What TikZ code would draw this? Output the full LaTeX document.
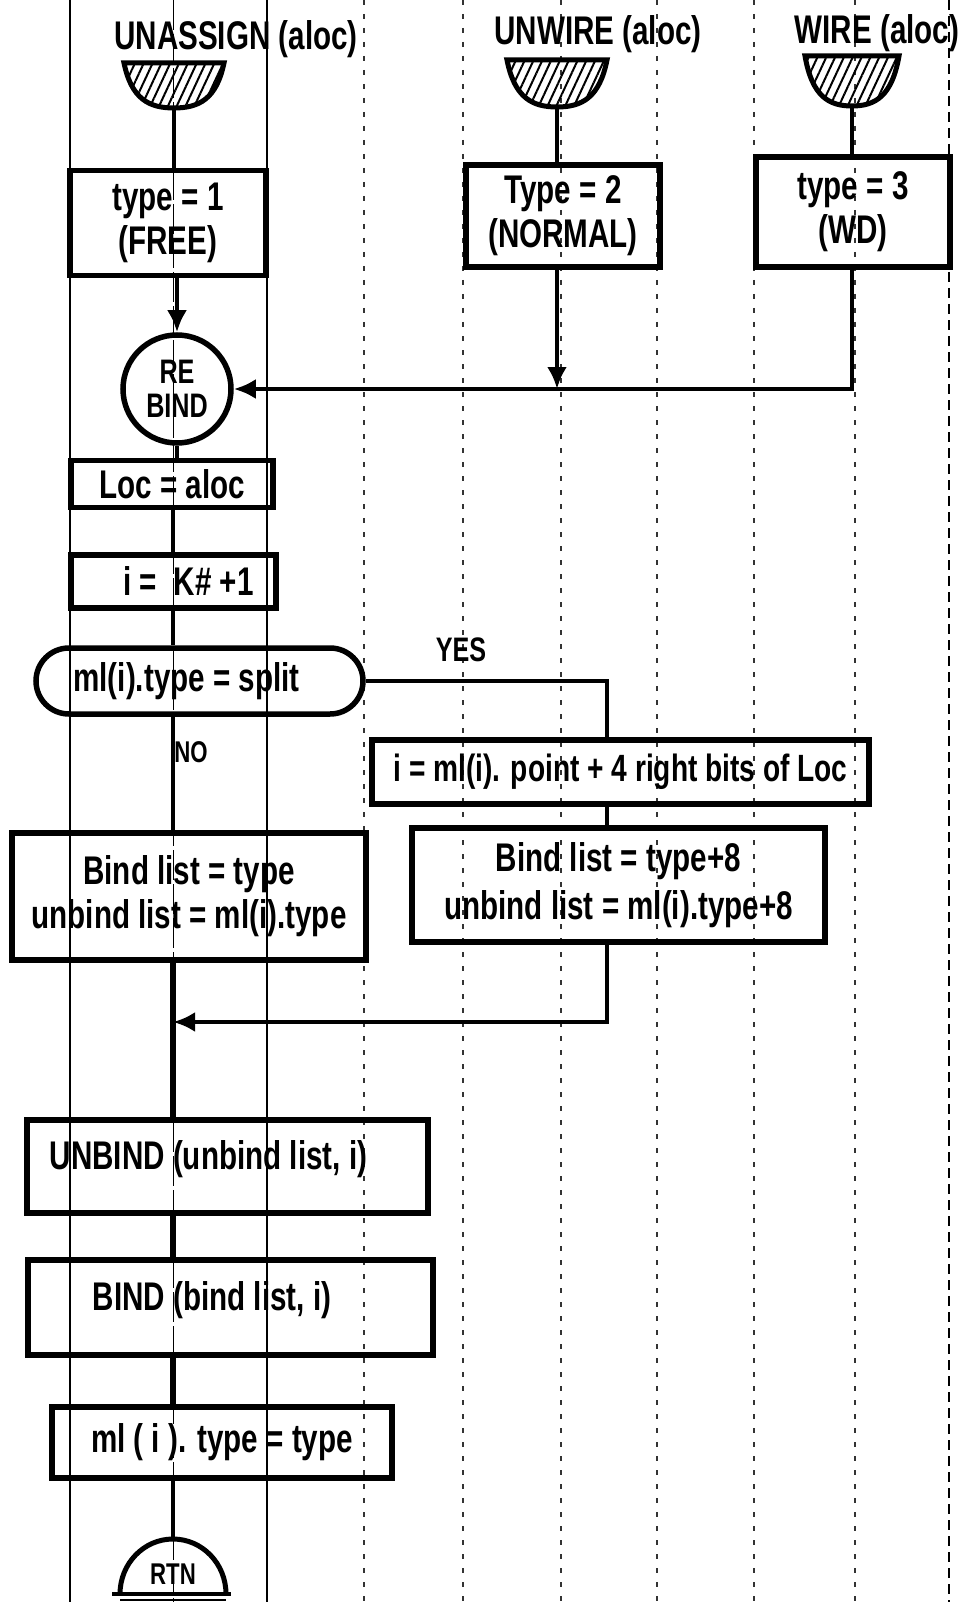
\documentclass[tikz,border=0pt]{standalone}
\usepackage{fontspec}
\setmainfont{Liberation Sans}[FakeStretch=0.74]
\usetikzlibrary{arrows.meta,patterns.meta,shapes.misc}
\newcommand\startsym[5]{%
  \draw[line width=5pt,pattern={Lines[angle=65,distance=8pt,line width=2pt]}]
    ({#2-#5},#3) -- ({#2+#5},#3)
    .. controls ({#2+0.85*#5},{#3+0.8*(#4-#3)}) and ({#2+0.5*#5},#4) .. (#2,#4)
    .. controls ({#2-0.5*#5},#4) and ({#2-0.85*#5},{#3+0.8*(#4-#3)}) .. cycle;
  \coordinate (#1) at (#2,#4);}
\begin{document}
\begin{tikzpicture}[x=1pt,y=-1pt,
  box/.style={draw,line width=5.5pt,inner sep=0pt,align=center,font=\fontsize{40}{44}\selectfont\bfseries},
  conn/.style={line width=4.5pt},
  arr/.style={conn,-{Latex[length=22pt,width=20pt]}},
  txt/.style={inner sep=0pt,font=\fontsize{40}{44}\selectfont\bfseries},
  solidgrid/.style={line width=1.3pt},
  dashgrid/.style={line width=1.1pt,black!80,dash pattern=on 5pt off 9pt},
]
\useasboundingbox (0,0) rectangle (968,1602);
% background paper lines
\foreach \x in {70,267} \draw[solidgrid] (\x,0) -- (\x,1602);
\draw[line width=1pt,dash pattern=on 30pt off 4pt] (173,0) -- (173,1602);
\foreach \x in {364,463,561,657,754,855} \draw[dashgrid] (\x,0) -- (\x,1602);
\draw[line width=1.5pt,dash pattern=on 10pt off 6pt] (949,0) -- (949,1602);

% titles
\node[txt] (ttl1) at (236,39) {UNASSIGN (aloc)};
\node[txt] (ttl2) at (598,34) {UNWIRE (aloc)};
\node[txt] (ttl3) at (877,33) {WIRE (aloc)};

% start symbols
\startsym{b1}{174}{63}{108}{50}
\startsym{b2}{557}{60}{107}{50}
\startsym{b3}{852}{56}{106}{47}

% type boxes
\node[box,minimum width=196pt,minimum height=105pt] (t1) at (168,223) {type = 1\\(FREE)};
\node[box,minimum width=194pt,minimum height=102pt] (t2) at (563,216) {Type = 2\\(NORMAL)};
\node[box,minimum width=194pt,minimum height=110pt] (t3) at (853,212) {type = 3\\(WD)};

\draw[conn] (b1) -- (t1.north -| b1);
\draw[conn] (b2) -- (t2.north -| b2);
\draw[conn] (b3) -- (t3.north -| b3);

% rebind
\node[draw,circle,line width=5.5pt,minimum size=108pt,inner sep=0pt,align=center,
      font=\fontsize{34}{34}\selectfont\bfseries] (rb) at (177,389) {RE\\BIND};
\draw[arr] (t1.south -| rb.north) -- (rb.north);
\draw[arr] (t3.south -| b3) |- (rb.east);
\draw[arr] (t2.south -| b2) -- (b2 |- rb.east);

\coordinate (main) at (173,0);
\coordinate (xr) at (607,0);

\node[box,minimum width=202pt,minimum height=47pt] (loc) at (172,484) {Loc = aloc};
\draw[conn] (rb.south) -- (rb.south |- loc.north);

\node[box,minimum width=205pt,minimum height=53pt] (ik) at (173.5,581.5) {\hspace*{30pt}i = \ K\# +1};
\draw[conn] (loc.south -| main) -- (ik.north -| main);

\node[draw,rounded rectangle,line width=5.5pt,minimum width=327pt,minimum height=66pt,inner sep=0pt,
      font=\fontsize{40}{44}\selectfont\bfseries] (sp) at (199.5,681) {ml(i).type = split\hspace*{26pt}};
\draw[conn] (ik.south -| main) -- (sp.north -| main);

\node[txt,font=\fontsize{34}{34}\selectfont\bfseries] (yes) at (461,650) {YES};
\node[txt,font=\fontsize{30}{30}\selectfont\bfseries] (no) at (191,752) {NO};

\node[box,minimum width=497pt,minimum height=64pt,font=\fontsize{38}{44}\selectfont\bfseries] (im) at (620.5,772) {i = ml(i). point + 4 right bits of Loc};
\draw[conn] (sp.east) -| (im.north -| xr);

\node[box,minimum width=354pt,minimum height=127pt] (bl) at (189,896.5) {Bind list = type\\unbind list = ml(i).type};
\node[box,minimum width=413pt,minimum height=114pt,font=\fontsize{40}{48}\selectfont\bfseries] (br) at (618.5,885)
     {Bind list = type+8\\unbind list = ml(i).type+8};

\draw[conn] (sp.south -| main) -- (bl.north -| main);
\draw[conn] (im.south -| xr) -- (br.north -| xr);

\coordinate (join) at (173,1022);
\draw[arr] (br.south -| xr) |- (join);

\node[box,minimum width=401pt,minimum height=93pt,text depth=24pt] (ub) at (227.5,1166.5) {UNBIND (unbind list, i)\hspace*{38pt}};
\node[box,minimum width=405pt,minimum height=95pt,text depth=24pt] (bd) at (230.5,1307.5) {BIND (bind list, i)\hspace*{37pt}};
\node[box,minimum width=340pt,minimum height=71pt] (mt) at (222,1442.5) {ml ( i ). type = type};

\draw[line width=6pt] (bl.south -| main) -- (ub.north -| main);
\draw[line width=5.5pt] (ub.south -| main) -- (bd.north -| main);
\draw[line width=6pt] (bd.south -| main) -- (mt.north -| main);

% return symbol
\draw[line width=5pt] (120,1594) arc[start angle=180,end angle=360,x radius=53,y radius=55];
\coordinate (rtntop) at (173,1539);
\draw[line width=4pt] (112,1594) -- (231,1594);
\draw[line width=2.5pt] (120,1600) -- (226,1600);
\node[txt,font=\fontsize{30}{30}\selectfont\bfseries] (rtn) at (173,1574) {RTN};
\draw[conn] (mt.south -| main) -- (rtntop);
\end{tikzpicture}
\end{document}
